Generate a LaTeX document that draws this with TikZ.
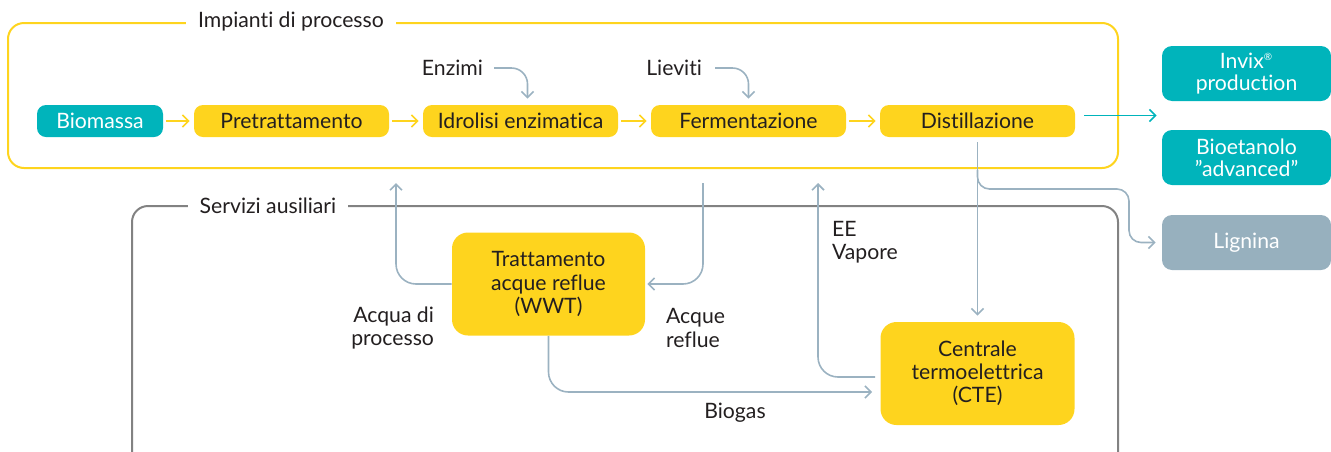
\documentclass[tikz,border=0pt]{standalone}
\usepackage{fontspec}
\setmainfont{Lato}[Ligatures=NoCommon]
\usetikzlibrary{arrows.meta,calc}
\definecolor{procyellow}{RGB}{254,212,30}
\definecolor{prodteal}{RGB}{0,180,187}
\definecolor{lignagray}{RGB}{151,176,190}
\definecolor{flowgray}{RGB}{155,178,193}
\definecolor{framegray}{RGB}{130,130,130}
\definecolor{textdark}{RGB}{35,31,32}
\begin{document}
\begin{tikzpicture}[x=0.5pt,y=-0.5pt,
    every node/.style={font=\fontsize{10.6}{11.6}\selectfont, text=textdark},
    stepbox/.style={fill=procyellow, rounded corners=4.5pt, minimum width=97.5pt, minimum height=16pt, inner sep=0pt},
    bigbox/.style={fill=procyellow, rounded corners=8pt, minimum width=97pt, minimum height=51.5pt, inner sep=0pt, align=center},
    outbox/.style={fill=prodteal, text=white, rounded corners=5pt, minimum width=84.5pt, minimum height=27.5pt, inner sep=0pt, align=center, font=\fontsize{10.6}{11}\selectfont},
    framelabel/.style={fill=white, inner xsep=6pt, inner ysep=1pt},
    yflow/.style={draw=procyellow, line width=0.8pt, -{Straight Barb[length=3pt,width=6pt]}, shorten <=1.5pt, shorten >=2pt},
    gflow/.style={draw=flowgray, line width=0.8pt, -{Straight Barb[length=3pt,width=6pt]}, rounded corners=6pt}]
    \useasboundingbox (0,0) rectangle (1331,451);
    % frames
    \draw [procyellow, line width=1pt, rounded corners=8pt] (8,23) rectangle (1118,168);
    \draw [framegray, line width=1pt, rounded corners=8pt] (132,455) -- (132,206) -- (1118,206) -- (1118,455);
    \node [framelabel] (impianti) at (291,22) {Impianti di processo};
    \node [framelabel] (servizi) at (268,206) {Servizi ausiliari};
    % process line
    \node [stepbox, fill=prodteal, text=white, minimum width=63pt] (biom) at (100,121) {Biomassa};
    \node [stepbox] (pretr) at (291.5,121) {Pretrattamento};
    \node [stepbox] (idro) at (520.5,121) {Idrolisi enzimatica};
    \node [stepbox] (ferm) at (748.5,121) {Fermentazione};
    \node [stepbox] (dist) at (977.5,121) {Distillazione};
    \draw [yflow] (biom) -- (pretr);
    \draw [yflow] (pretr) -- (idro);
    \draw [yflow] (idro) -- (ferm);
    \draw [yflow] (ferm) -- (dist);
    \node [anchor=east] (enz) at (490,68) {Enzimi};
    \node [anchor=east] (liev) at (709,68) {Lieviti};
    \draw [gflow, rounded corners=8pt, shorten <=2pt, shorten >=3pt] (enz.east) -| ([xshift=3.5pt]idro.north);
    \draw [gflow, rounded corners=8pt, shorten <=3pt, shorten >=3pt] (liev.east) -| (ferm.north);
    % products
    \node [outbox] (invix) at (1246.5,73.5) {Invix\textsuperscript{\fontsize{5}{5}\selectfont ®}\\production};
    \node [outbox] (bioet) at (1246.5,157.5) {Bioetanolo\\"advanced"};
    \node [outbox, fill=lignagray] (lign) at (1246.5,242.5) {Lignina};
    \coordinate (prod) at ($(invix.south west)!.5!(bioet.north west)$);
    \draw [gflow, draw=prodteal, shorten <=4.5pt, shorten >=2.5pt] (dist.east |- prod) -- (prod);
    % auxiliary services
    \node [bigbox, minimum width=96.5pt] (wwt) at (548.5,284) {Trattamento\\acque reflue\\(WWT)};
    \node [bigbox] (cte) at (977.5,373.5) {Centrale\\termoelettrica\\(CTE)};
    \draw [gflow, shorten <=2.5pt, shorten >=3pt] (dist.south) -- (cte.north);
    \coordinate (split) at (977.5,170);
    \coordinate (bend) at (1129,189);
    \draw [gflow, shorten >=3pt] (split) |- (bend) |- (lign.west);
    \coordinate (acqtop) at (396,183);
    \coordinate (reftop) at (703,183);
    \coordinate (eetop) at (818,183);
    \coordinate (bg) at (0,392);
    \draw [gflow, rounded corners=10pt] (wwt.west) -| (acqtop);
    \draw [gflow, rounded corners=10pt, shorten >=1pt] (reftop) |- (wwt.east);
    \draw [gflow, rounded corners=10pt, shorten <=2.5pt] ([yshift=-1.75pt]cte.west) -| (eetop);
    \draw [gflow, rounded corners=10pt, shorten >=4pt] (wwt.south) |- (cte.west |- bg);
    \node [align=right, anchor=east] (acqua) at (441,328) {Acqua di\\processo};
    \node [align=left, anchor=west] (reflue) at (659,328) {Acque\\reflue};
    \node [align=left, anchor=west] (ee) at (825,242) {EE\\Vapore};
    \node (biogas) at (735,413) {Biogas};
\end{tikzpicture}
\end{document}
